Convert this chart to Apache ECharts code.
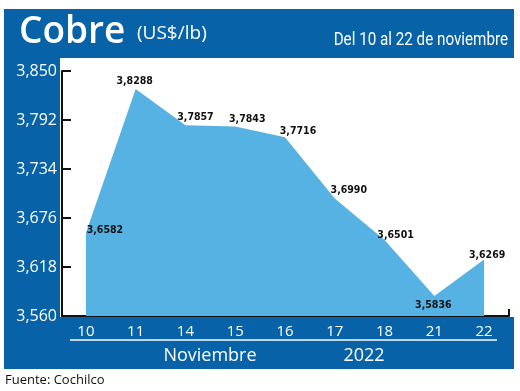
<!DOCTYPE html>
<html>
<head>
<meta charset="utf-8">
<script src="https://cdn.jsdelivr.net/npm/echarts@6/dist/echarts.min.js"></script>
<style>
html,body{margin:0;padding:0;background:#ffffff;}
#chart{width:520px;height:391px;}
</style>
</head>
<body>
<div id="chart"></div>
<script>
// ---- data ----
const days = ['10', '11', '14', '15', '16', '17', '18', '21', '22'];
const prices = [3.6582, 3.8288, 3.7857, 3.7843, 3.7716, 3.6990, 3.6501, 3.5836, 3.6269];
const yTicks = [3.560, 3.618, 3.676, 3.734, 3.792, 3.850];
const titleMain = 'Cobre';
const titleUnit = '(US$/lb)';
const subtitle = 'Del 10 al 22 de noviembre';
const monthLabel = 'Noviembre';
const yearLabel = '2022';
const source = 'Fuente: Cochilco';

// ---- styles ----
const DARK = '#0762a8';
const LIGHT = '#55b2e2';
// label placement per point: [position, dx, dy]
const labelPlace = [
  ['top', 19, 3], ['top', -1, -2], ['top', 10, -2], ['top', 12, -1], ['top', 13, 0],
  ['top', 14, -2], ['top', 11, 1], ['bottom', -1, 3], ['top', 3, 2]
];

const fmtY = v => v.toFixed(3).replace('.', ',');
const fmtV = v => v.toFixed(4).replace('.', ',');

const seriesData = prices.map((v, i) => ({
  value: [i, v],
  label: {
    position: labelPlace[i][0],
    offset: [labelPlace[i][1], labelPlace[i][2]]
  }
}));

const chart = echarts.init(document.getElementById('chart'), null, {renderer: 'canvas'});
chart.setOption({
  animation: false,
  backgroundColor: '#ffffff',
  graphic: [
    {type: 'rect', z: -10, silent: true, shape: {x: 4, y: 9, width: 510, height: 49}, style: {fill: DARK}},
    {type: 'rect', z: -10, silent: true, shape: {x: 4, y: 57, width: 56, height: 262}, style: {fill: DARK}},
    {type: 'rect', z: -10, silent: true, shape: {x: 4, y: 317, width: 510, height: 52}, style: {fill: DARK}},
    {type: 'line', z: -5, silent: true, shape: {x1: 70, y1: 340, x2: 497, y2: 340}, style: {stroke: '#ffffff', lineWidth: 1.5}},
    {type: 'text', silent: true, x: 19, y: 32, style: {text: titleMain, fill: '#ffffff', font: '600 37px "Open Sans"', verticalAlign: 'middle', align: 'left'}},
    {type: 'text', silent: true, x: 137, y: 34, style: {text: titleUnit, fill: '#ffffff', font: '400 19px "Open Sans"', verticalAlign: 'middle', align: 'left'}},
    {type: 'text', silent: true, x: 508, y: 40, scaleX: 0.8, style: {text: subtitle, fill: '#ffffff', font: '400 19px Roboto', verticalAlign: 'middle', align: 'right'}},
    {type: 'text', silent: true, x: 210, y: 356, style: {text: monthLabel, fill: '#ffffff', font: '400 18px "Open Sans"', verticalAlign: 'middle', align: 'center'}},
    {type: 'text', silent: true, x: 364, y: 356, style: {text: yearLabel, fill: '#ffffff', font: '400 18px "Open Sans"', verticalAlign: 'middle', align: 'center'}},
    {type: 'text', silent: true, x: 5, y: 380, style: {text: source, fill: '#111111', font: '400 13px "Open Sans"', verticalAlign: 'middle', align: 'left'}}
  ],
  grid: {left: 62, right: 11, top: 71, bottom: 75, containLabel: false},
  xAxis: {
    type: 'value',
    min: -0.48,
    max: 8.5,
    splitLine: {show: false},
    axisLine: {show: true, onZero: false, lineStyle: {color: '#111111', width: 2}},
    axisTick: {show: true, inside: true, length: 7, customValues: [8.5], lineStyle: {color: '#111111', width: 2}},
    axisLabel: {
      customValues: days.map((d, i) => i),
      formatter: v => days[Math.round(v)],
      color: '#ffffff',
      fontFamily: 'Open Sans',
      fontSize: 15,
      margin: 8
    }
  },
  yAxis: {
    type: 'value',
    min: yTicks[0],
    max: yTicks[yTicks.length - 1],
    splitLine: {show: false},
    axisLine: {show: true, onZero: false, lineStyle: {color: '#111111', width: 2}},
    axisTick: {show: true, inside: true, length: 9, customValues: yTicks, lineStyle: {color: '#111111', width: 2}},
    axisLabel: {
      customValues: yTicks,
      formatter: fmtY,
      color: '#ffffff',
      fontFamily: 'Open Sans',
      fontSize: 16,
      margin: 5
    }
  },
  series: [{
    type: 'line',
    data: seriesData,
    symbol: 'circle',
    symbolSize: 1,
    showSymbol: true,
    itemStyle: {color: 'rgba(0,0,0,0)'},
    lineStyle: {width: 0, color: LIGHT},
    areaStyle: {color: LIGHT, opacity: 1, origin: 'start'},
    label: {
      show: true,
      distance: 0,
      color: '#111111',
      fontFamily: '"Liberation Sans Narrow", "DejaVu Sans Condensed", Roboto',
      fontWeight: 'bold',
      fontSize: 10.5,
      formatter: p => fmtV(p.value[1])
    },
    z: 2
  }]
});
</script>
</body>
</html>
